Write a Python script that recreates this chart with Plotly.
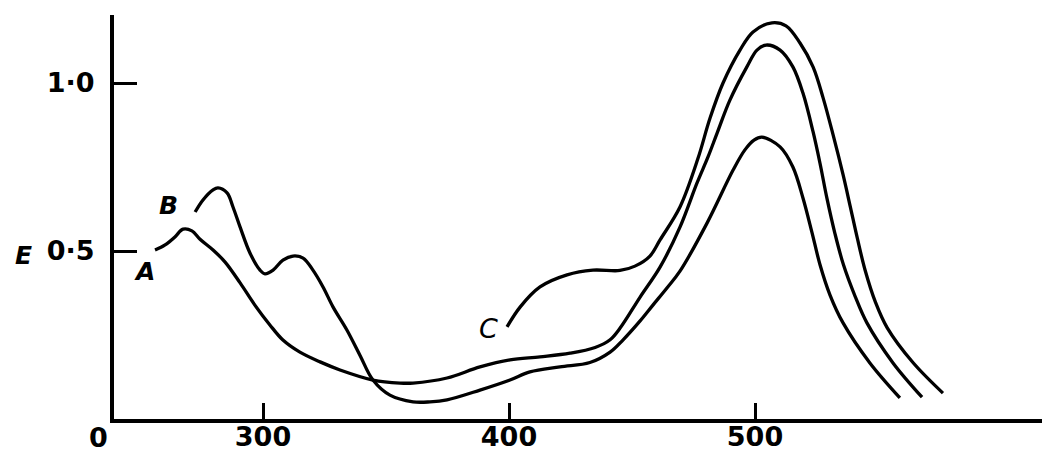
import plotly.graph_objects as go

# Wavelength (nm) and extinction E for the three curves
wl_a = [256.1, 260.2, 264.2, 267.5, 271.1, 274.4, 279.7, 284.6, 290.7, 296.7, 302.8, 308.1,
        315.0, 323.2, 331.3, 344.7, 355.7, 361.0, 374.8, 388.2, 400.4, 412.6, 424.8, 435.0,
        441.1, 445.1, 453.3, 461.4, 469.5, 476.4, 480.9, 484.6, 489.8, 496.7, 500.8, 504.5,
        510.2, 515.4, 519.5, 523.6, 526.4, 529.3, 532.5, 536.0, 540.7, 545.5, 556.1, 567.9]
e_a = [0.503, 0.518, 0.542, 0.565, 0.560, 0.535, 0.503, 0.467, 0.405, 0.339, 0.280, 0.235,
       0.199, 0.170, 0.146, 0.116, 0.107, 0.107, 0.122, 0.155, 0.176, 0.185, 0.196, 0.213,
       0.236, 0.270, 0.363, 0.452, 0.571, 0.702, 0.780, 0.851, 0.949, 1.048, 1.098, 1.113,
       1.098, 1.048, 0.970, 0.855, 0.762, 0.655, 0.552, 0.458, 0.365, 0.286, 0.167, 0.065]

wl_b = [272.4, 275.6, 279.7, 281.7, 285.4, 287.8, 290.7, 294.7, 298.8, 300.8, 304.1, 308.1,
        312.2, 316.3, 320.3, 324.4, 328.5, 334.1, 339.4, 344.7, 351.6, 361.0, 367.9, 374.8,
        388.2, 400.4, 408.5, 420.7, 432.9, 441.1, 446.3, 453.3, 458.5, 464.2, 469.5, 480.5,
        491.1, 495.9, 499.6, 502.8, 510.2, 515.4, 519.5, 523.2, 526.4, 530.5, 535.8, 546.7, 558.9]
e_b = [0.616, 0.652, 0.682, 0.688, 0.673, 0.631, 0.571, 0.494, 0.443, 0.432, 0.443, 0.473,
       0.485, 0.479, 0.443, 0.393, 0.333, 0.265, 0.190, 0.116, 0.071, 0.051, 0.051, 0.057,
       0.086, 0.116, 0.140, 0.155, 0.168, 0.199, 0.235, 0.292, 0.339, 0.390, 0.440, 0.583,
       0.741, 0.801, 0.830, 0.839, 0.810, 0.750, 0.658, 0.554, 0.460, 0.369, 0.286, 0.167, 0.063]

wl_c = [399.2, 404.5, 412.6, 423.6, 434.1, 445.1, 451.2, 457.3, 461.4, 469.5, 476.8, 481.7,
        487.0, 493.9, 499.2, 506.9, 512.6, 518.3, 523.6, 527.6, 531.7, 535.8, 538.8, 541.6,
        544.8, 549.0, 553.7, 564.2, 576.4]
e_c = [0.274, 0.333, 0.393, 0.429, 0.443, 0.442, 0.455, 0.485, 0.533, 0.631, 0.775, 0.895,
       1.000, 1.098, 1.152, 1.179, 1.170, 1.119, 1.048, 0.958, 0.847, 0.727, 0.630, 0.538,
       0.442, 0.347, 0.272, 0.168, 0.077]

x_ticks = [300, 400, 500]
x_tick_text = ["300", "400", "500"]
y_ticks = [0.5, 1.0]
y_tick_text = ["0·5", "1·0"]

curve_labels = ["A", "B", "C"]

fig = go.Figure()
for xs, ys, name in [(wl_a, e_a, "A"), (wl_b, e_b, "B"), (wl_c, e_c, "C")]:
    fig.add_trace(go.Scatter(x=xs, y=ys, mode="lines", name=name,
                             line=dict(color="black", width=3.3, shape="spline", smoothing=1.0),
                             showlegend=False, hoverinfo="skip"))

tick_font = dict(family="DejaVu Sans", size=27, color="black", weight="bold")

fig.update_layout(
    width=1044, height=452,
    margin=dict(l=114, r=2, t=15, b=33, autoexpand=False),
    paper_bgcolor="white", plot_bgcolor="white",
    xaxis=dict(range=[239.43, 616.67], showgrid=False, zeroline=False, automargin=False,
               showline=True, linecolor="black", linewidth=4,
               ticks="inside", ticklen=16, tickwidth=3, tickcolor="black",
               tickvals=x_ticks, ticktext=x_tick_text, tickfont=tick_font,
               ticklabelstandoff=-9),
    yaxis=dict(range=[0, 1.2024], showgrid=False, zeroline=False, automargin=False,
               showline=True, linecolor="black", linewidth=4,
               ticks="inside", ticklen=23, tickwidth=3, tickcolor="black",
               tickvals=y_ticks, ticktext=y_tick_text, tickfont=tick_font,
               ticklabelstandoff=10),
)

lab_font = dict(family="DejaVu Sans", size=25, color="black", weight="bold", style="italic")
fig.add_annotation(x=252.0, y=0.44, text=curve_labels[0], showarrow=False, font=lab_font,
                   xanchor="center", yanchor="middle")
fig.add_annotation(x=261.4, y=0.634, text=curve_labels[1], showarrow=False, font=lab_font,
                   xanchor="center", yanchor="middle")
fig.add_annotation(x=391.5, y=0.268, text=curve_labels[2], showarrow=False,
                   font=dict(family="DejaVu Sans", size=27, color="black", style="italic"),
                   xanchor="center", yanchor="middle")
fig.add_annotation(xref="paper", x=-0.097, y=0.488, text="E", showarrow=False,
                   xanchor="center", yanchor="middle",
                   font=dict(family="DejaVu Sans", size=25, color="black", weight="bold", style="italic"))
fig.add_annotation(xref="paper", yref="paper", x=-0.017, y=-0.047, text="0", showarrow=False,
                   xanchor="center", yanchor="middle", font=tick_font)

fig.write_html("out.html", config={"displayModeBar": False, "staticPlot": True},
               post_script="document.body.style.margin='0';document.body.style.padding='0';"
                           "document.body.style.overflow='hidden';")
